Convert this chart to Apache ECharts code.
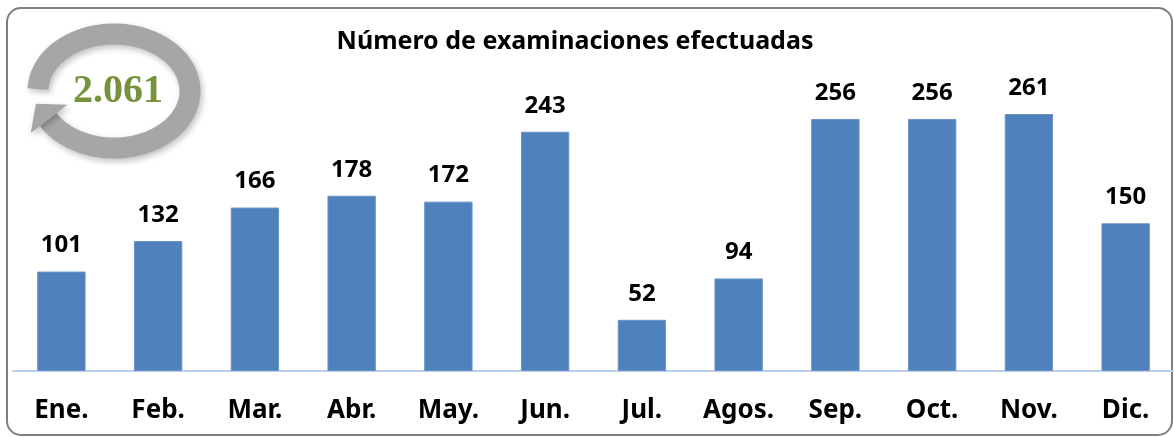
<!DOCTYPE html>
<html>
<head>
<meta charset="utf-8">
<script src="https://cdn.jsdelivr.net/npm/echarts@6/dist/echarts.min.js"></script>
<style>
  html, body { margin: 0; padding: 0; background: #fff; }
  #chart { width: 1174px; height: 437px; }
</style>
</head>
<body>
<div id="chart"></div>
<script>
const months = ["Ene.", "Feb.", "Mar.", "Abr.", "May.", "Jun.", "Jul.", "Agos.", "Sep.", "Oct.", "Nov.", "Dic."];
const exams = [101, 132, 166, 178, 172, 243, 52, 94, 256, 256, 261, 150];
const titleText = "Número de examinaciones efectuadas";

// total shown inside the round arrow, "." as thousands separator
let total = exams.reduce((a, b) => a + b, 0);
let totalText = String(total).replace(/\B(?=(\d{3})+(?!\d))/g, ".");

// round arrow (just decoration): ellipse arc + head
let cx = 114, cy = 91, ra = 76, rb = 57;
let startT = 182, endT = 150 + 360;
let arcPts = [];
for (let t = startT; t <= endT; t += 2) {
  let r = t * Math.PI / 180;
  arcPts.push([cx + ra * Math.cos(r), cy + rb * Math.sin(r)]);
}
let er = endT * Math.PI / 180;
let ex = cx + ra * Math.cos(er), ey = cy + rb * Math.sin(er);
let tx = -ra * Math.sin(er), ty = rb * Math.cos(er);
let tl = Math.sqrt(tx * tx + ty * ty);
tx /= tl; ty /= tl;
let nx = -ty, ny = tx;
let head = [
  [ex + nx * 24, ey + ny * 24],
  [ex - nx * 22, ey - ny * 22],
  [ex + tx * 20, ey + ty * 20]
];

let chart = echarts.init(document.getElementById("chart"));
let font = "'Noto Sans', 'Open Sans', sans-serif";
let option = {
  backgroundColor: "#fff",
  animation: false,
  title: {
    text: titleText,
    left: 570,
    top: 24,
    textAlign: "center",
    textStyle: {
      fontFamily: font,
      fontWeight: "bold",
      fontSize: 25,
      color: "#000"
    }
  },
  grid: {
    left: 13,
    width: 1164,
    top: 75.6,
    height: 295.4
  },
  xAxis: {
    type: "category",
    data: months,
    axisLine: { lineStyle: { color: "#B9CFEA", width: 2 } },
    axisTick: { show: false },
    axisLabel: {
      margin: 27,
      fontFamily: font,
      fontWeight: "bold",
      fontSize: 26,
      color: "#000",
      interval: 0
    }
  },
  yAxis: {
    type: "value",
    min: 0,
    max: 300,
    show: false,
    splitLine: { show: false }
  },
  series: [
    {
      type: "bar",
      data: exams,
      barWidth: "50%",
      itemStyle: { color: "#4F81BD", borderColor: "#6A94C8", borderWidth: 1 },
      label: {
        show: true,
        position: "top",
        distance: 14,
        fontFamily: font,
        fontWeight: "bold",
        fontSize: 24,
        color: "#000"
      }
    }
  ],
  graphic: [
    {
      type: "rect",
      z: -1,
      shape: { x: 7, y: 8, width: 1165, height: 427, r: 14 },
      style: { fill: "none", stroke: "#7F7F7F", lineWidth: 2 }
    },
    {
      type: "group",
      z: 10,
      children: [
        {
          type: "polyline",
          shape: { points: arcPts },
          style: {
            fill: null,
            stroke: "#A6A6A6",
            lineWidth: 21,
            lineCap: "butt",
            shadowBlur: 6,
            shadowOffsetX: 2,
            shadowOffsetY: 3,
            shadowColor: "rgba(0,0,0,0.25)"
          }
        },
        {
          type: "polygon",
          shape: { points: head },
          style: {
            fill: "#A6A6A6",
            shadowBlur: 6,
            shadowOffsetX: 2,
            shadowOffsetY: 3,
            shadowColor: "rgba(0,0,0,0.25)"
          }
        },
        {
          type: "text",
          x: 118,
          y: 92,
          style: {
            text: totalText,
            fontFamily: "'Liberation Serif', 'DejaVu Serif', serif",
            fontWeight: "bold",
            fontSize: 40,
            fill: "#76923C",
            align: "center",
            verticalAlign: "middle"
          }
        }
      ]
    }
  ]
};
chart.setOption(option);
</script>
</body>
</html>
